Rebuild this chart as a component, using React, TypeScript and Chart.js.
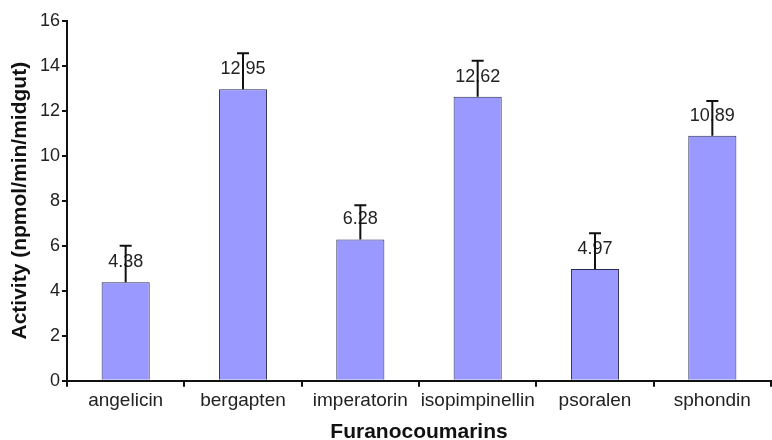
import React, { useEffect, useRef } from "react";
import { Chart, registerables } from "chart.js";

Chart.register(...registerables);

// Furanocoumarin substrates and measured activity
const categories = ["angelicin", "bergapten", "imperatorin", "isopimpinellin", "psoralen", "sphondin"];
const activity = [4.38, 12.95, 6.28, 12.62, 4.97, 10.89];
const errorUp = [1.62, 1.6, 1.52, 1.6, 1.58, 1.54];

const yMin = 0;
const yMax = 16;
const yStep = 2;

const FONT = "'Liberation Sans', Arial, Helvetica, sans-serif";

// Draws the upper error whiskers and the value labels above each bar
const errorBarPlugin = {
  id: "errorBarsAndLabels",
  afterDatasetsDraw(chart: any) {
    const { ctx } = chart;
    const meta = chart.getDatasetMeta(0);
    const yScale = chart.scales.y;
    ctx.save();
    meta.data.forEach((bar: any, i: number) => {
      const x = bar.x;
      const top = yScale.getPixelForValue(activity[i]);
      const errTop = yScale.getPixelForValue(activity[i] + errorUp[i]);

      ctx.fillStyle = "#222";
      ctx.font = `18px ${FONT}`;
      ctx.textAlign = "center";
      ctx.textBaseline = "alphabetic";
      ctx.fillText(activity[i].toFixed(2), x, top - 15);

      ctx.strokeStyle = "#111";
      ctx.lineWidth = 2;
      ctx.beginPath();
      ctx.moveTo(x, top);
      ctx.lineTo(x, errTop);
      ctx.moveTo(x - 6, errTop);
      ctx.lineTo(x + 6, errTop);
      ctx.stroke();
    });
    ctx.restore();
  },
};

export default function App() {
  const canvasRef = useRef<HTMLCanvasElement | null>(null);

  useEffect(() => {
    if (!canvasRef.current) return;
    const chart = new Chart(canvasRef.current, {
      type: "bar",
      data: {
        labels: categories,
        datasets: [
          {
            data: activity,
            backgroundColor: "#9999ff",
            borderColor: "#2a2a55",
            borderWidth: 1,
            barPercentage: 0.41,
            categoryPercentage: 1,
          },
        ],
      },
      options: {
        responsive: false,
        animation: false,
        layout: { padding: { top: 20.7, right: 1, left: 0, bottom: 0 } },
        plugins: {
          legend: { display: false },
          tooltip: { enabled: false },
        },
        scales: {
          x: {
            offset: true,
            grid: {
              display: true,
              offset: true,
              drawOnChartArea: false,
              drawTicks: true,
              tickLength: 6,
              color: "#111",
              lineWidth: 2,
            },
            border: { display: true, color: "#111", width: 2 },
            ticks: {
              color: "#222",
              font: { family: FONT, size: 19 },
              padding: 3,
              maxRotation: 0,
              autoSkip: false,
            },
            title: {
              display: true,
              text: "Furanocoumarins",
              color: "#111",
              font: { family: FONT, size: 21, weight: "bold", lineHeight: 0.75 },
              padding: { top: 0, bottom: 0 },
            },
            afterFit(scale: any) {
              scale.height = 59.3;
            },
          },
          y: {
            min: yMin,
            max: yMax,
            grid: {
              display: true,
              drawOnChartArea: false,
              drawTicks: true,
              tickLength: 5,
              color: "#111",
              lineWidth: 2,
            },
            border: { display: true, color: "#111", width: 2 },
            ticks: {
              stepSize: yStep,
              color: "#222",
              font: { family: FONT, size: 18 },
              padding: 2,
            },
            title: {
              display: true,
              text: "Activity (npmol/min/midgut)",
              color: "#111",
              font: { family: FONT, size: 21, weight: "bold" },
              padding: { top: 8, bottom: 0 },
            },
            afterFit(scale: any) {
              scale.width = 67;
            },
          },
        },
      },
      plugins: [errorBarPlugin],
    });
    return () => chart.destroy();
  }, []);

  return (
    <div style={{ position: "absolute", left: 0, top: 0, width: 772, height: 440, background: "#fff" }}>
      <canvas ref={canvasRef} width={772} height={440} />
    </div>
  );
}
